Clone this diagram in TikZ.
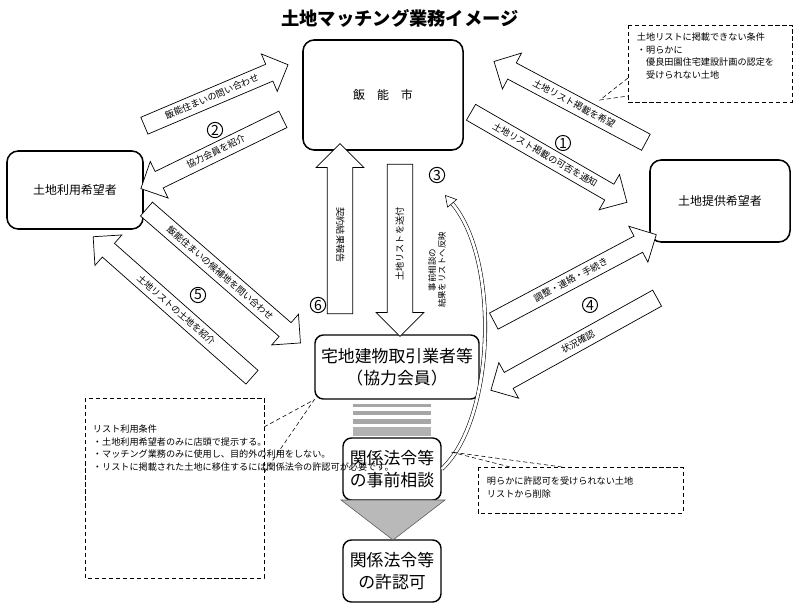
\documentclass[tikz,border=0pt]{standalone}
\usepackage{fontspec}
\setmainfont{Noto Sans CJK JP}
\usetikzlibrary{arrows.meta,shapes.arrows,calc}

\tikzset{
  party/.style={draw, line width=1.1pt, rounded corners=8pt, align=center, font=\fontsize{8.5}{10}\selectfont},
  stage/.style={draw, line width=1pt, rounded corners=6pt, align=center, font=\fontsize{12}{16}\selectfont},
  flow/.style={single arrow, draw, line width=0.5pt, fill=white, font=\fontsize{6.5}{7}\selectfont,
               text height=6pt, text depth=1.5pt, inner ysep=2.5pt, inner xsep=3pt,
               single arrow head extend=0.28cm},
  back/.style={shape border rotate=180},
  num/.style={circle, draw, line width=0.7pt, inner sep=0.6pt, font=\fontsize{10}{10}\selectfont},
  note/.style={draw, densely dashed, line width=0.4pt, fill=white},
  notetext/.style={align=left, font=\fontsize{6.5}{9}\selectfont}
}

\begin{document}
\begin{tikzpicture}[x=0.025cm, y=-0.025cm]
  \useasboundingbox (0,0) rectangle (800,610);

  % ---- Title ----
  \node[font=\fontsize{13}{15}\selectfont\bfseries] (title) at (400,18) {土地マッチング業務イメージ};

  % ---- Parties ----
  \node[party, minimum width=4cm, minimum height=2.75cm] (city) at (383,95) {飯　能　市};
  \node[party, minimum width=3.4cm, minimum height=1.95cm] (user) at (75,190) {土地利用希望者};
  \node[party, minimum width=3.5cm, minimum height=2.05cm] (owner) at (720,201) {土地提供希望者};
  \node[stage, minimum width=4.1cm, minimum height=1.6cm] (agent) at (397,367) {宅地建物取引業者等\\（協力会員）};
  \node[stage, minimum width=2.45cm, minimum height=1.55cm] (consult) at (392,469) {関係法令等\\の事前相談};
  \node[stage, minimum width=2.45cm, minimum height=1.55cm] (permit) at (392,571) {関係法令等\\の許認可};

  % ---- Stripes and big arrow ----
  \fill[gray!70] (353,404) rectangle (431,407);
  \fill[gray!70] (353,411) rectangle (431,415);
  \fill[gray!70] (353,419) rectangle (431,424);
  \fill[gray!60] (353,427) rectangle (431,436);
  \coordinate (tip) at (393,540);
  \filldraw[fill=gray!55, draw=gray!70!black, line width=0.4pt]
    (341,500) -- (445,500) -- (tip) -- cycle;

  % ---- Block arrows ----
  \node[flow, back, minimum height=4.3cm, rotate=-28] (a1) at (574,104) {土地リスト掲載を希望};
  \node[flow, minimum height=4.5cm, rotate=-30] (a2) at (545,155) {土地リスト掲載の可否を通知};
  \node[flow, minimum height=3.9cm, rotate=23] (a3) at (212,97) {飯能住まいの問い合わせ};
  \node[flow, back, minimum height=3.95cm, rotate=26] (a4) at (216,152) {協力会員を紹介};
  \node[flow, minimum height=5.1cm, rotate=-41] (a5) at (220,273) {飯能住まいの候補地を問い合わせ};
  \node[flow, back, minimum height=5.3cm, rotate=-41.5] (a6) at (176,310) {土地リストの土地を紹介};
  \node[flow, minimum height=4.6cm, rotate=28] (a7) at (571,280) {調整・連絡・手続き};
  \node[flow, back, minimum height=4.75cm, rotate=29] (a8) at (578,342) {状況確認};
  \node[flow, back, minimum height=4.25cm, rotate=-90, inner ysep=5pt] (a9) at (340,235) {契約結果報告};
  \node[flow, back, minimum height=4.3cm, rotate=90, inner ysep=5pt] (a10) at (400,244) {土地リストを送付};

  % ---- Circled numbers ----
  \node[num] (n1) at (563,143) {1};
  \node[num] (n2) at (215,130) {2};
  \node[num] (n3) at (437,175) {3};
  \node[num] (n4) at (590,305) {4};
  \node[num] (n5) at (198,295) {5};
  \node[num] (n6) at (318,305) {6};

  % ---- Feedback curve ----
  \coordinate (fb) at (445,195);
  \draw[double=white, double distance=2pt, line width=0.4pt, -{Triangle[open, length=8pt, width=9pt]}]
    (consult.east) .. controls (495,420) and (500,260) .. (fb);
  \node[rotate=90, font=\fontsize{6}{7}\selectfont, align=center] (fbtext) at (437,270)
    {事前相談の\\結果をリストへ反映};

  % ---- Notes ----
  \draw[note] (628,25) rectangle (792,102);
  \draw[densely dashed, line width=0.4pt] (628,78) -- (600,100) -- (628,96);
  \node[notetext, anchor=north west] (note1) at (632,28)
    {土地リストに掲載できない条件\\・明らかに\\　優良田園住宅建設計画の認定を\\　受けられない土地};

  \draw[note] (85,398) rectangle (264,578);
  \draw[densely dashed, line width=0.4pt] (264,427) -- (agent.south west) -- (264,473);
  \node[notetext, anchor=north west, text width=4.3cm] (note2) at (88,420)
    {リスト利用条件\\・土地利用希望者のみに店頭で提示する。\\・マッチング業務のみに使用し、目的外の利用をしない。\\・リストに掲載された土地に移住するには関係法令の許認可が必要です。};

  \draw[note] (478,467) rectangle (683,513);
  \draw[densely dashed, line width=0.4pt] (510,467) -- (451,452) -- (562,467);
  \node[notetext, anchor=north west] (note3) at (482,472)
    {明らかに許認可を受けられない土地\\リストから削除};
\end{tikzpicture}
\end{document}
